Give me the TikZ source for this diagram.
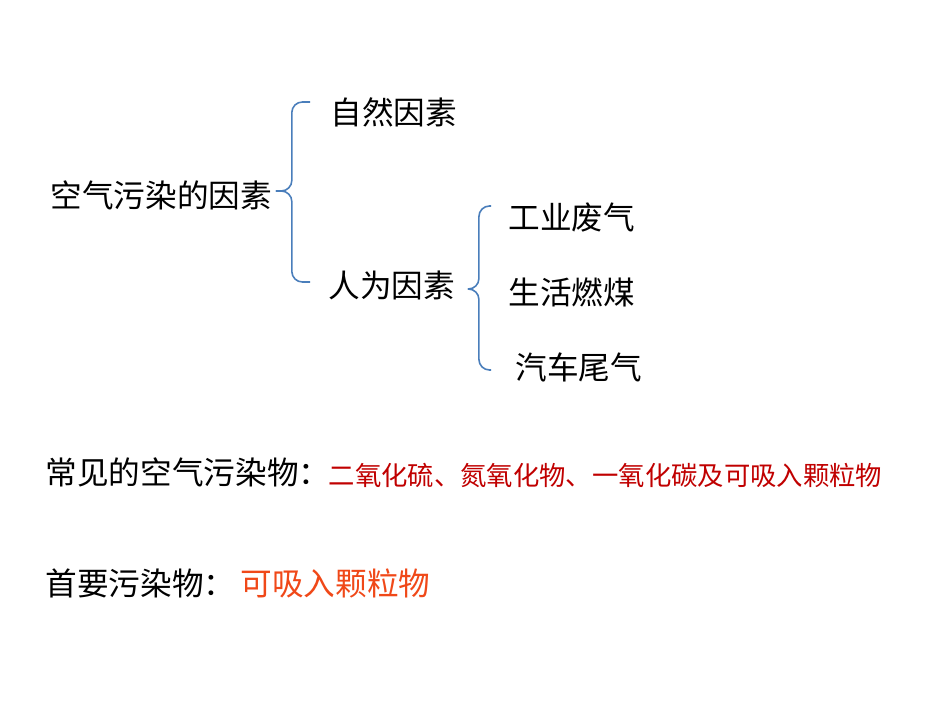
\documentclass[tikz,border=0pt]{standalone}
\usepackage{fontspec}
\newfontfamily\cjk{Noto Sans CJK SC}
\usetikzlibrary{positioning,calc}
\definecolor{brcblue}{RGB}{74,126,187}
\definecolor{pollred}{RGB}{192,0,0}
\definecolor{mainorange}{RGB}{240,72,24}
\tikzset{
  txt/.style={anchor=west, inner sep=0pt, font=\cjk\fontsize{9}{11}\selectfont},
  redtxt/.style={txt, text=pollred, font=\cjk\fontsize{7.5}{9}\selectfont},
  orgtxt/.style={txt, text=mainorange},
  brc/.style={draw=brcblue, line width=0.45pt, rounded corners=3pt},
}

\begin{document}
\begin{tikzpicture}
\useasboundingbox (0,0) rectangle (9.5,7.13);

% ============================ factor tree ===============================
\node[txt] (root) at (0.50,5.18) {空气污染的因素};
\node[txt] (nat)  at (3.30,6.01) {自然因素};
\node[txt] (hum)  at (3.28,4.28) {人为因素};
\node[txt] (ind)  at (5.08,4.95) {工业废气};
\node[txt] (coal) at (5.08,4.21) {生活燃煤};
\node[txt] (car)  at (5.15,3.46) {汽车尾气};

% ============================ braces ====================================
\coordinate (b1tip) at ($(root.east)+(0.03,0.04)$);
\coordinate (b1top) at ($(nat.west)+(-0.20,0.10)$);
\coordinate (b1bot) at ($(hum.west)+(-0.18,0.03)$);
\draw[brc] (b1top) -| ($(b1tip)+(0.16,0)$) -- (b1tip);
\draw[brc] (b1tip) -- ($(b1tip)+(0.16,0)$) |- (b1bot);

\coordinate (b2tip) at ($(hum.east)+(0.12,-0.04)$);
\coordinate (b2top) at ($(ind.west)+(-0.17,0.12)$);
\coordinate (b2bot) at ($(car.west)+(-0.24,-0.03)$);
\draw[brc] (b2top) -| ($(b2tip)+(0.11,0)$) -- (b2tip);
\draw[brc] (b2tip) -- ($(b2tip)+(0.11,0)$) |- (b2bot);

% ============================ pollutants ================================
\node[txt] (com) at (0.45,2.41) {常见的空气污染物：};
\node[redtxt] (comlist) at (3.28,2.38)
  {二氧化硫、氮氧化物、一氧化碳及可吸入颗粒物};

\node[txt] (pri) at (0.45,1.30) {首要污染物：};
\node[orgtxt] (prilist) at (2.40,1.30) {可吸入颗粒物};

\end{tikzpicture}
\end{document}
